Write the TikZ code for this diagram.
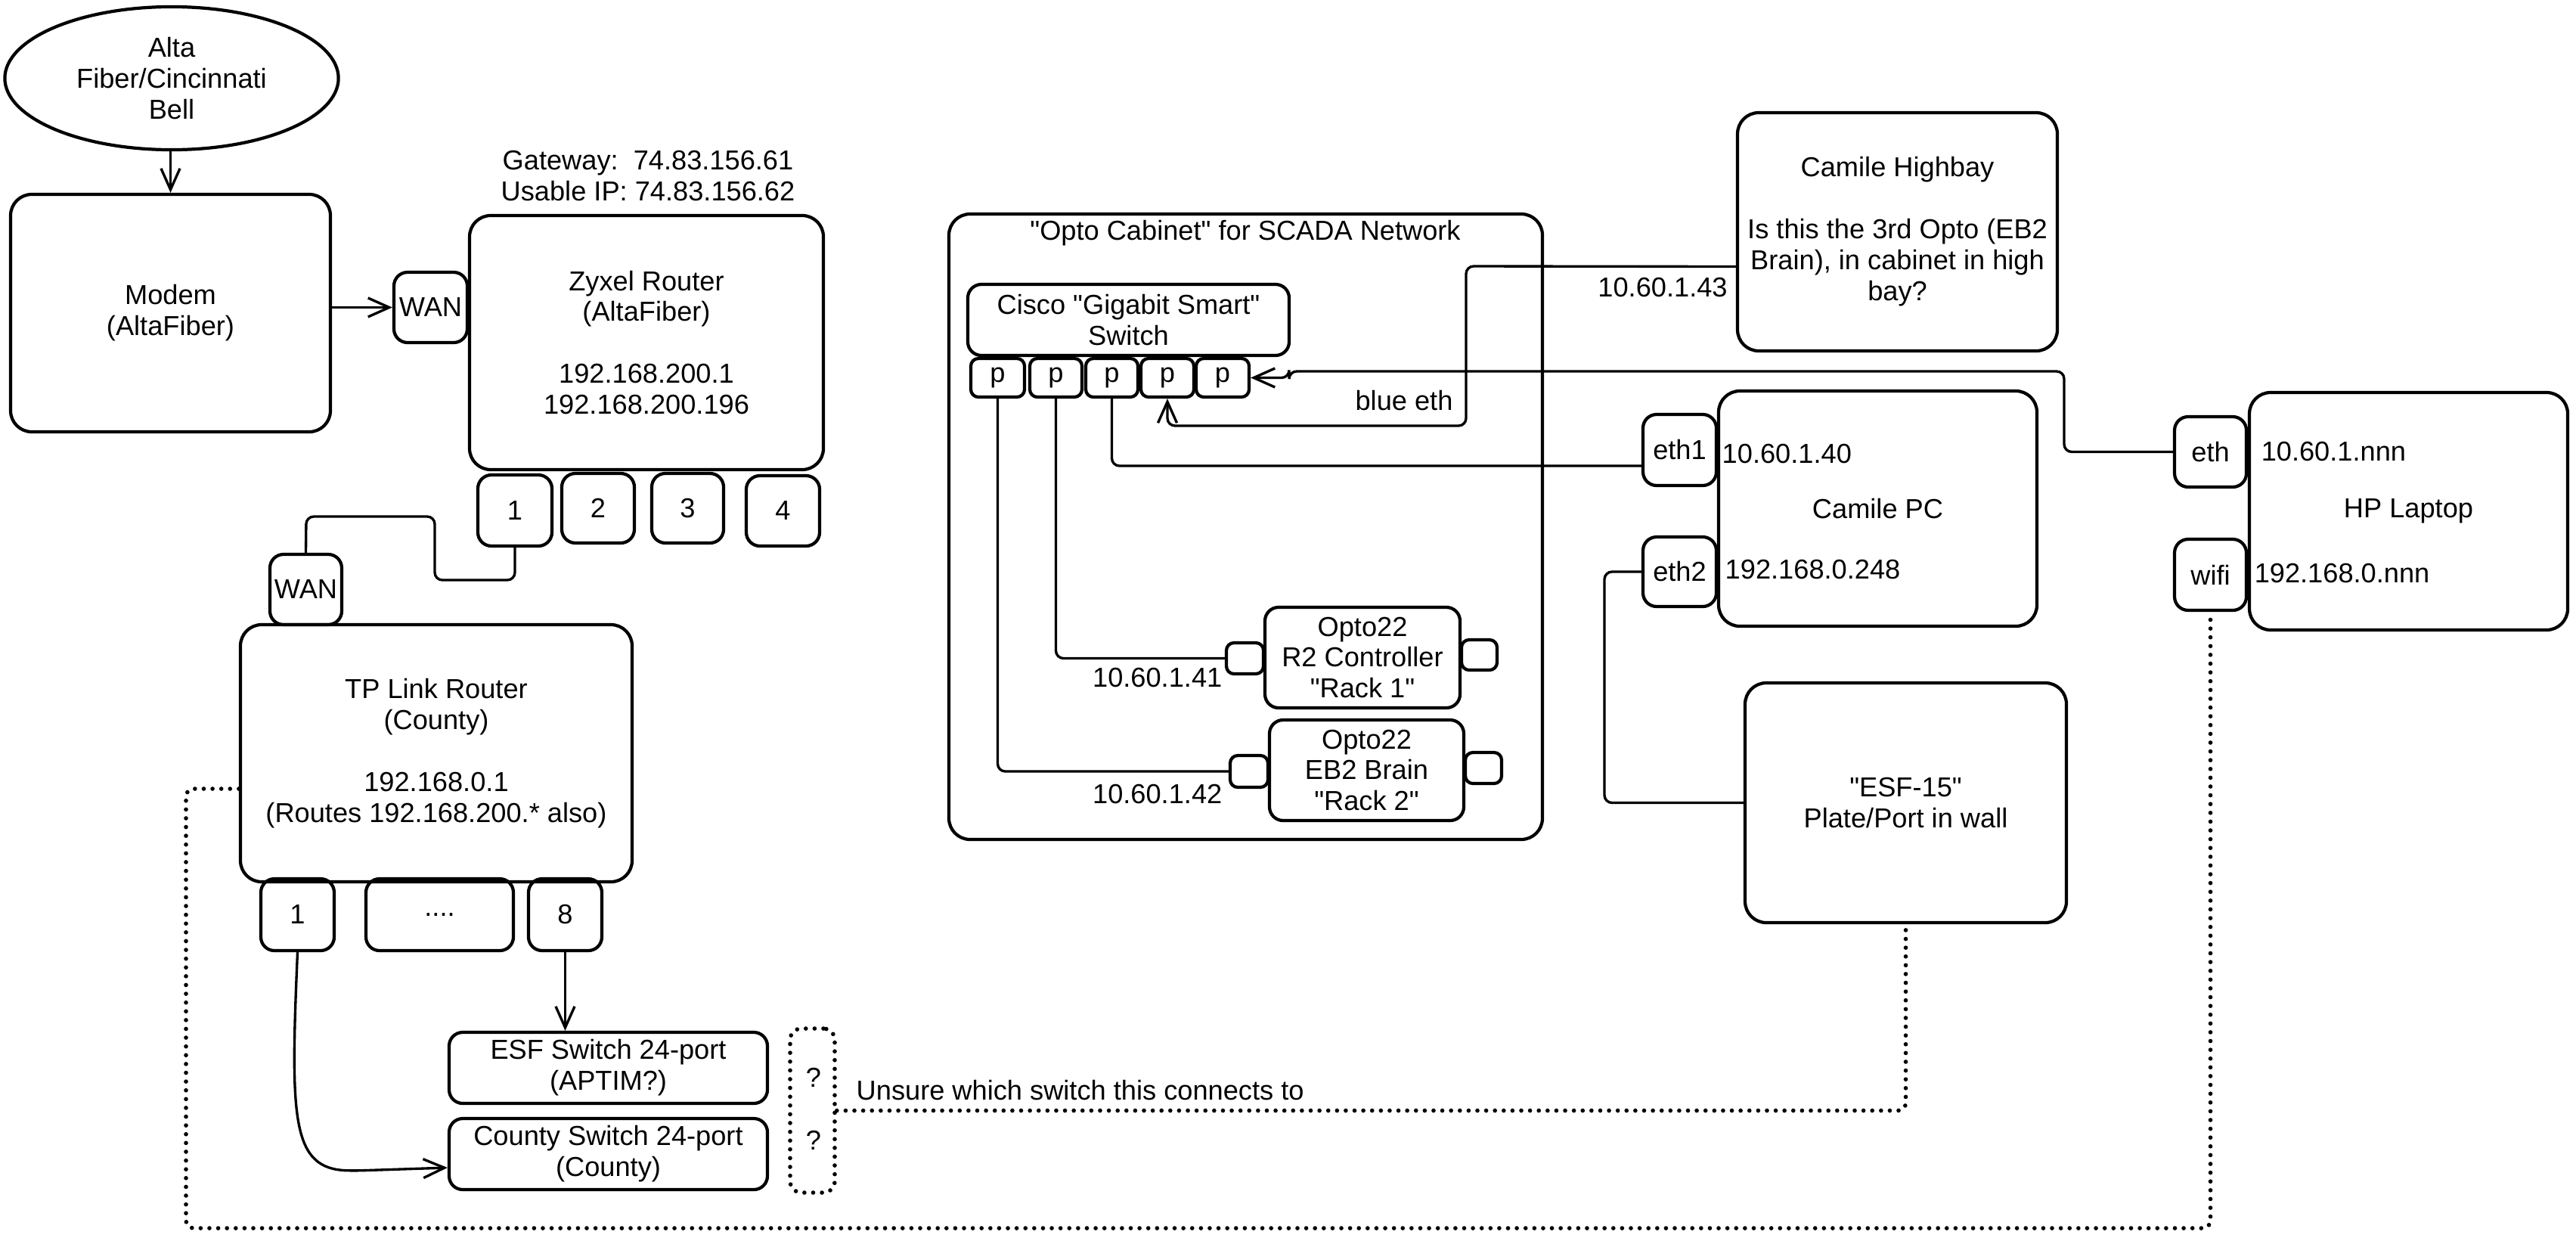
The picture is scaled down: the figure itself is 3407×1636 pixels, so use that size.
\documentclass[tikz,border=0pt]{standalone}
\usepackage{fontspec}
\setmainfont{Liberation Sans}[Ligatures=TeXOff]
\usetikzlibrary{arrows.meta,calc,shapes.geometric}
\begin{document}
\begin{tikzpicture}[x=0.01cm,y=-0.01cm,
 every node/.style={font=\fontsize{10.3}{11.65}\selectfont},
 wh/.style 2 args={minimum width={#1*0.01cm}, minimum height={#2*0.01cm}},
 box/.style={draw, line width=1.2pt, rounded corners=0.28cm, inner sep=0pt, align=center},
 port/.style={box, rounded corners=0.18cm},
 sport/.style={box, rounded corners=0.1cm},
 qbx/.style={draw, line width=1.6pt, line cap=round, dash pattern=on 0pt off 3.3pt, rounded corners=0.15cm, inner sep=0pt},
 lbl/.style={inner sep=0pt, align=center},
 wire/.style={line width=0.95pt, rounded corners=0.1cm},
 arr/.style={wire, -{Straight Barb[length=2.8mm,width=2.5mm]}},
 dots/.style={line width=1.6pt, line cap=round, dash pattern=on 0pt off 3.3pt, rounded corners=0.1cm}]
\useasboundingbox (0,0) rectangle (3407,1636);

% left column
\node[draw, line width=1.2pt, ellipse, minimum width=4.41cm, minimum height=1.89cm, inner sep=0pt, align=center] (isp) at (227,103.5) {Alta\\Fiber/Cincinnati\\Bell};
\node[box, wh={423}{314}] (modem) at (225.5,414) {Modem\\(AltaFiber)};
\node[port, wh={97}{93}] (zwan) at (569.5,406.5) {WAN};
\node[box, wh={468}{336}] (zyxel) at (855,453) {Zyxel Router\\(AltaFiber)\\[11.65pt]192.168.200.1\\192.168.200.196};
\node[lbl] (gw) at (857,233) {Gateway:\ \ 74.83.156.61\\Usable IP: 74.83.156.62};
\node[port, wh={98}{94}] (z1) at (681,675) {1};
\node[port, wh={96}{92}] (z2) at (791,672) {2};
\node[port, wh={95}{92}] (z3) at (909.5,672) {3};
\node[port, wh={97}{93}] (z4) at (1035.5,675.5) {4};

\node[port, wh={95}{93}] (twan) at (404.5,779.5) {WAN};
\node[box, wh={518}{340}] (tplink) at (577,996) {TP Link Router\\(County)\\[11.65pt]192.168.0.1\\(Routes 192.168.200.* also)};
\node[port, wh={97}{95}] (t1) at (393.5,1209.5) {1};
\node[port, wh={195}{95}] (tdots) at (581.5,1209.5) {....};
\node[port, wh={97}{95}] (t8) at (747.5,1209.5) {8};
\node[port, wh={421}{94}] (esfsw) at (804.5,1412) {ESF Switch 24-port\\(APTIM?)};
\node[port, wh={421}{94}] (ctysw) at (804.5,1526) {County Switch 24-port\\(County)};
\node[qbx, wh={59}{217}] (qbox) at (1074.5,1468.5) {};
\node[lbl] (q1) at (1076,1425) {?};
\node[lbl] (q2) at (1076,1508) {?};
\node[lbl, anchor=west] (unsure) at (1132,1442) {Unsure which switch this connects to};

% opto cabinet
\node[box, wh={785}{827}] (cab) at (1647.5,696.5) {};
\node[lbl] (cabt) at (1647,308) {"Opto Cabinet" for SCADA Network};
\node[port, wh={425}{94}] (cisco) at (1492.5,423) {Cisco "Gigabit Smart"\\Switch};
\node[sport, wh={71}{51}] (p1) at (1319.5,499.5) {p};
\node[sport, wh={69}{51}] (p2) at (1396.5,499.5) {p};
\node[sport, wh={69}{51}] (p3) at (1470.5,499.5) {p};
\node[sport, wh={70}{51}] (p4) at (1544,499.5) {p};
\node[sport, wh={70}{51}] (p5) at (1617,499.5) {p};
\node[lbl] (blue) at (1857,530) {blue eth};
\node[port, wh={258}{133}] (r2) at (1802,869.5) {Opto22\\R2 Controller\\"Rack 1"};
\node[sport, wh={49}{41}] (r2l) at (1646.5,870.5) {};
\node[sport, wh={47}{40}] (r2r) at (1956.5,866) {};
\node[port, wh={257}{133}] (eb2) at (1807.5,1018.5) {Opto22\\EB2 Brain\\"Rack 2"};
\node[sport, wh={50}{42}] (eb2l) at (1652,1020) {};
\node[sport, wh={48}{41}] (eb2r) at (1962,1015.5) {};
\node[lbl, anchor=east] (ip41) at (1617,896) {10.60.1.41};
\node[lbl, anchor=east] (ip42) at (1617,1050) {10.60.1.42};

% right side
\node[box, wh={423}{315}] (hb) at (2509.5,306.5) {Camile Highbay\\[11.65pt]Is this the 3rd Opto (EB2\\Brain), in cabinet in high\\bay?};
\node[lbl] (ip43) at (2199,380) {10.60.1.43};
\node[box, wh={421}{311}] (pc) at (2483.5,672.5) {Camile PC};
\node[port, wh={97}{94}] (eth1) at (2221.5,595) {eth1};
\node[port, wh={97}{92}] (eth2) at (2221.5,756) {eth2};
\node[lbl, anchor=west] (ip40) at (2277,600) {10.60.1.40};
\node[lbl, anchor=west] (ip248) at (2281,753) {192.168.0.248};
\node[box, wh={425}{317}] (esf15) at (2520.5,1061.5) {"ESF-15"\\Plate/Port in wall};
\node[box, wh={421}{314}] (hp) at (3185.5,676) {HP Laptop};
\node[port, wh={95}{93}] (heth) at (2923.5,597.5) {eth};
\node[port, wh={95}{94}] (hwifi) at (2923.5,760) {wifi};
\node[lbl, anchor=west] (ipn1) at (2990,597) {10.60.1.nnn};
\node[lbl, anchor=west] (ipn2) at (2981,758) {192.168.0.nnn};

% connectors
\draw[arr] (isp.south -| modem.north) -- (modem.north);
\draw[arr] (modem.east |- zwan.west) -- (zwan.west);
\draw[wire] (z1.south) |- (575,767) |- (405,683) -- (twan.north);
\draw[arr] (t8.south) -- (t8.south |- esfsw.north);
\draw[arr] (t1.south) .. controls (384,1480) and (385,1546) .. (470,1548) -- ($(ctysw.west)+(0,18)$);
\draw[dots] (qbox.east) -| (esf15.south);
\draw[dots] ($(tplink.west)+(0,47)$) -- (246,1043) -- (246,1624) -| (hwifi.south);
\draw[arr] ($(hb.west)+(0,46)$) -- (1939,352) -- (1939,563) -| (p4.south);
\draw[arr] (heth.west) -- (2730,597.5) -- (2730,491) -- (1705,491) -- (1705,499.5) -- (p5.east);
\draw[wire] (p3.south) |- ($(eth1.west)+(0,21)$);
\draw[wire] (p2.south) |- (r2l.west);
\draw[wire] (p1.south) |- (eb2l.west);
\draw[wire] (eth2.west) -- (2122,756) |- (esf15.west);
\end{tikzpicture}
\end{document}
